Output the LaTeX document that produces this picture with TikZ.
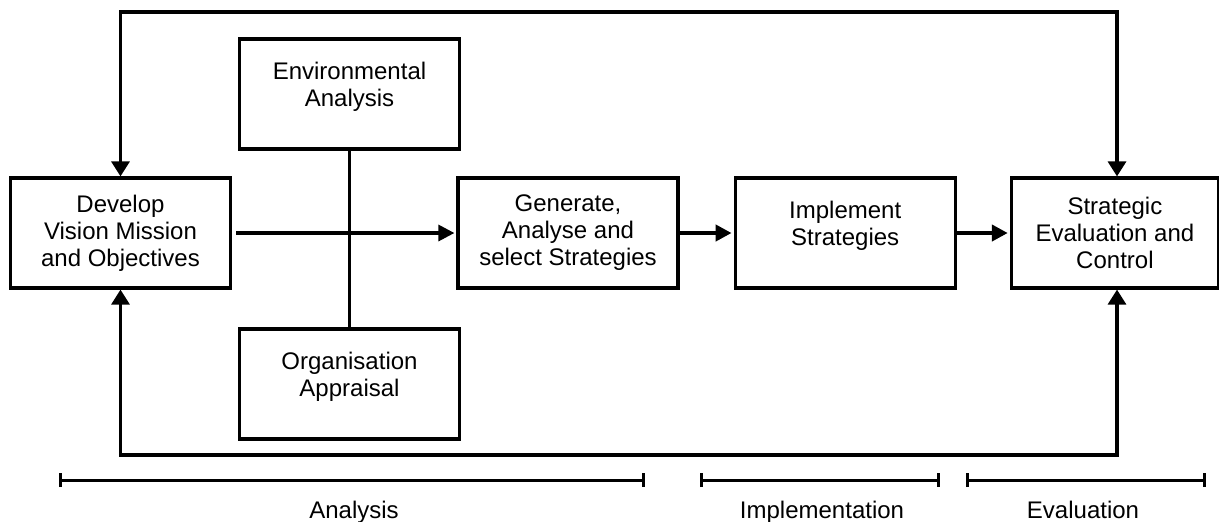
\documentclass[tikz,border=0pt]{standalone}
\usepackage{fontspec}
\setmainfont{Liberation Sans}
\usetikzlibrary{positioning, arrows.meta}
\tikzset{x=0.5pt, y=-0.5pt, % One unit is one pixel of the layout, y runs downwards
box/.style={ % Sets the properties for each process box
draw, line width=1.6pt,
minimum width=110pt, minimum height=55pt,
align=center, inner sep=2pt,
font=\fontsize{12}{13.5}\selectfont},
upper/.style={text depth=10pt}, % Two-line text sits a little above the middle
flow/.style={ % Arrows between the boxes
draw, line width=1.6pt, -{Triangle[length=8pt,width=8pt]}},
heavy/.style={line width=2pt}, % The short arrows are drawn bolder
loopback/.style={ % Feedback lines with a head at both ends
draw, line width=1.6pt, {Triangle[length=7.5pt,width=9pt]}-{Triangle[length=7.5pt,width=9pt]}},
span/.style={ % Phase brackets under the chart
draw, line width=1.5pt, {Bar[width=7pt]}-{Bar[width=7pt]}},
phase/.style={font=\fontsize{12}{13.5}\selectfont, anchor=base, inner sep=0pt}}

\begin{document}
\begin{tikzpicture}
    \useasboundingbox (0,0) rectangle (1219,521);
    
    \node[box] (develop) at (120.5,233) {Develop\\Vision Mission\\and Objectives};
    \node[box, upper] (envir) at (349.5,94) {Environmental\\Analysis};
    \node[box, upper] (orgapp) at (349.5,384) {Organisation\\Appraisal};
    \node[box] (generate) at (568,233) {Generate,\\Analyse and\\select Strategies};
    \node[box, upper, right=27pt of generate] (implement) {Implement\\Strategies};
    \node[box, minimum width=103.5pt, right=26.5pt of implement] (control) {Strategic\\Evaluation and\\Control};
    
    \coordinate (topright) at (1117,12);
    \coordinate (botright) at (1117,455);
    
    \draw[line width=1.6pt] (envir) -- (orgapp);
    \draw[flow, shorten <=2pt, shorten >=1pt] (develop) -- (generate);
    \draw[flow, heavy, shorten >=1pt] (generate) -- (implement);
    \draw[flow, heavy, shorten >=1pt] (implement) -- (control);
    
    \draw[loopback] (develop.north) |- (topright) -- (control.north -| topright);
    \draw[loopback] (develop.south) |- (botright) -- (control.south -| botright);
    
    % phases
    \coordinate (ana1) at (59,480);
    \coordinate (ana2) at (645,480);
    \coordinate (imp1) at (700,480);
    \coordinate (imp2) at (940,480);
    \coordinate (eva1) at (966,480);
    \coordinate (eva2) at (1206,480);
    \draw[span] (ana1) -- (ana2);
    \draw[span] (imp1) -- (imp2);
    \draw[span] (eva1) -- (eva2);
    \node[phase] (analysis) at (354,518) {Analysis};
    \node[phase] (implementation) at (822,518) {Implementation};
    \node[phase] (evaluation) at (1083,518) {Evaluation};
    
\end{tikzpicture}
\end{document}
